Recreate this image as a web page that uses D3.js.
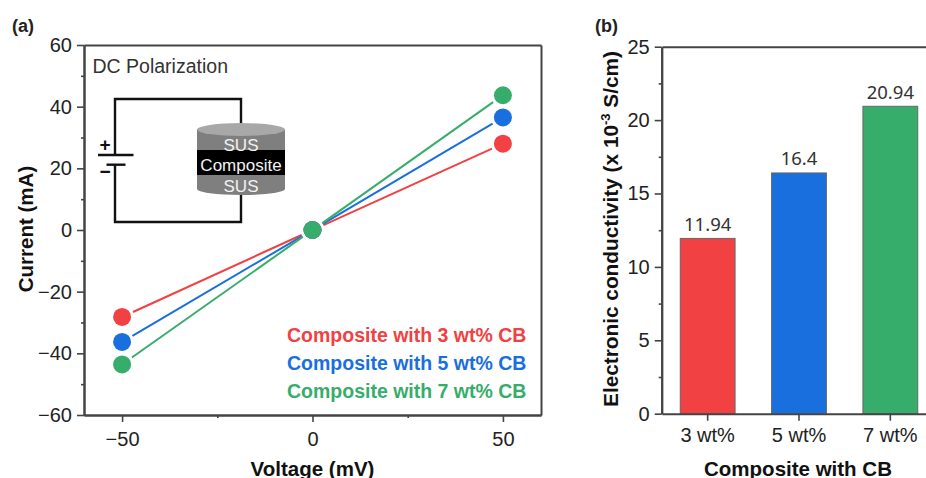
<!DOCTYPE html>
<html lang="en">
<head>
    <meta charset="UTF-8">
    <title>DC Polarization</title>
    <script src="https://cdn.jsdelivr.net/npm/d3@7"></script>
    <style>
        html, body { margin: 0; background: #fff; overflow: hidden; }
        svg { display: block; font-family: "Liberation Sans", Arial, sans-serif; }
    </style>
</head>
<body>
    <svg id="chart" width="926" height="478"></svg>

    <script>
        // panel (a)
        const voltages = [-50, 0, 50];
        const current3 = [-28.2, 0, 28];
        const current5 = [-36.3, 0, 36.5];
        const current7 = [-43.6, 0, 43.7];
        const seriesNames = ["Composite with 3 wt% CB", "Composite with 5 wt% CB", "Composite with 7 wt% CB"];
        const xMajorTicks = [-50, 0, 50];
        const xMinorTicks = [-25, 25];
        const yMajorTicks = [-60, -40, -20, 0, 20, 40, 60];
        const yMinorTicks = [-50, -30, -10, 10, 30, 50];

        // panel (b)
        const categories = ["3 wt%", "5 wt%", "7 wt%"];
        const conductivity = [11.94, 16.4, 20.94];
        const conductivityLabels = ["11.94", "16.4", "20.94"];
        const barMajorTicks = [0, 5, 10, 15, 20, 25];
        const barMinorTicks = [2.5, 7.5, 12.5, 17.5, 22.5];

        const colors = ["#f24142", "#1a6fdf", "#37ad6b"];
        const axisColor = "#444";
        const svg = d3.select("#chart");

        const x = d3.scaleLinear().domain([-60, 60]).range([84, 541]);
        const y = d3.scaleLinear().domain([-60, 60]).range([415, 45]);
        const xBand = d3.scaleBand().domain(categories).range([662, 936]).paddingInner(0.4).paddingOuter(0.2);
        const yBar = d3.scaleLinear().domain([0, 25]).range([413.7, 46.7]);

        function styleAxis(g, fontSize) {
            g.attr("font-family", null).attr("font-size", fontSize);
            g.selectAll("path").attr("stroke", axisColor).attr("stroke-width", 2);
            g.selectAll("line").attr("stroke", axisColor).attr("stroke-width", 1.6);
            g.selectAll("text").attr("fill", "#222");
        }

        // ---------- panel (a) ----------
        svg.append("g").attr("transform", "translate(0,415)")
            .call(d3.axisBottom(x).tickValues(xMinorTicks).tickSize(3).tickSizeOuter(0).tickFormat(""))
            .call(styleAxis, 20);
        svg.append("g").attr("transform", "translate(0,415)")
            .call(d3.axisBottom(x).tickValues(xMajorTicks).tickSize(7).tickPadding(10).tickSizeOuter(0).tickFormat(d3.format("d")))
            .call(styleAxis, 20);
        svg.append("g").attr("transform", "translate(84,0)")
            .call(d3.axisLeft(y).tickValues(yMinorTicks).tickSize(3).tickSizeOuter(0).tickFormat(""))
            .call(styleAxis, 20);
        svg.append("g").attr("transform", "translate(84,0)")
            .call(d3.axisLeft(y).tickValues(yMajorTicks).tickSize(7).tickPadding(5).tickSizeOuter(0).tickFormat(d3.format("d")))
            .call(styleAxis, 20);

        // frame top and right
        svg.append("g").attr("transform", "translate(0,45)")
            .call(d3.axisTop(x).tickValues([]).tickSizeOuter(0))
            .call(styleAxis, 20);
        svg.append("g").attr("transform", "translate(541,0)")
            .call(d3.axisRight(y).tickValues([]).tickSizeOuter(0))
            .call(styleAxis, 20);

        // circuit inset
        const wire = svg.append("g").attr("fill", "none").attr("stroke", "#111").attr("stroke-width", 2.4);
        wire.append("path").attr("d", "M115,155V99H241V135");
        wire.append("path").attr("d", "M115,165V222H241V188");
        wire.append("path").attr("d", "M98,155H133.5");
        wire.append("path").attr("d", "M106.5,164.7H125.5");
        svg.append("text").attr("x", 105).attr("y", 151).attr("text-anchor", "middle").attr("font-size", 19).attr("font-weight", "bold").attr("fill", "#111").text("+");
        svg.append("text").attr("x", 105).attr("y", 178).attr("text-anchor", "middle").attr("font-size", 19).attr("font-weight", "bold").attr("fill", "#111").text("−");

        const cyl = svg.append("g");
        cyl.append("path").attr("d", "M197,129V189A44,6 0 0 0 285,189V129Z").attr("fill", "#7f7f7f");
        cyl.append("rect").attr("x", 197).attr("y", 150).attr("width", 88).attr("height", 25).attr("fill", "#000");
        cyl.append("ellipse").attr("cx", 241).attr("cy", 129.5).attr("rx", 44).attr("ry", 6.5).attr("fill", "#a8a8a8");
        const cylLabels = [["SUS", 151], ["Composite", 170.5], ["SUS", 191.5]];
        cyl.selectAll("text").data(cylLabels).join("text")
            .attr("x", 241).attr("y", d => d[1])
            .attr("text-anchor", "middle").attr("font-size", 17).attr("fill", "#f2f2f2")
            .text(d => d[0]);

        svg.append("text").attr("x", 92.5).attr("y", 73).attr("font-size", 19.5).attr("fill", "#333").text("DC Polarization");

        // lines stop short of the markers
        const gap = 12;
        const lineGen = d3.line();
        [current3, current5, current7].forEach((values, s) => {
            const pts = voltages.map((v, i) => [x(v), y(values[i])]);
            d3.pairs(pts).forEach(([a, b]) => {
                const len = Math.hypot(b[0] - a[0], b[1] - a[1]);
                const ux = (b[0] - a[0]) / len;
                const uy = (b[1] - a[1]) / len;
                svg.append("path")
                    .attr("d", lineGen([[a[0] + ux * gap, a[1] + uy * gap], [b[0] - ux * gap, b[1] - uy * gap]]))
                    .attr("fill", "none")
                    .attr("stroke", colors[s])
                    .attr("stroke-width", 2);
            });
        });
        [current3, current5, current7].forEach((values, s) => {
            svg.append("g").selectAll("circle").data(voltages).join("circle")
                .attr("cx", d => x(d))
                .attr("cy", (d, i) => y(values[i]))
                .attr("r", 9)
                .attr("fill", colors[s]);
        });

        svg.selectAll("text.legend").data(seriesNames).join("text")
            .attr("class", "legend")
            .attr("x", 287)
            .attr("y", (d, i) => [341.5, 369.8, 398][i])
            .attr("font-size", 19.5)
            .attr("font-weight", "bold")
            .attr("fill", (d, i) => colors[i])
            .text(d => d);

        svg.append("text").attr("x", 312.5).attr("y", 475.5).attr("text-anchor", "middle")
            .attr("font-size", 20.5).attr("font-weight", "bold").attr("fill", "#111").text("Voltage (mV)");
        svg.append("text").attr("transform", "translate(33,229) rotate(-90)").attr("text-anchor", "middle")
            .attr("font-size", 20.5).attr("font-weight", "bold").attr("fill", "#111").text("Current (mA)");
        svg.append("text").attr("x", 12).attr("y", 32).attr("font-size", 18).attr("font-weight", "bold").attr("fill", "#222").text("(a)");

        // ---------- panel (b) ----------
        svg.selectAll("rect.bar").data(categories).join("rect")
            .attr("class", "bar")
            .attr("x", d => xBand(d))
            .attr("y", (d, i) => yBar(conductivity[i]))
            .attr("width", xBand.bandwidth())
            .attr("height", (d, i) => yBar(0) - yBar(conductivity[i]))
            .attr("fill", (d, i) => colors[i])
            .attr("stroke", "#666")
            .attr("stroke-width", 1);

        svg.selectAll("text.value").data(categories).join("text")
            .attr("class", "value")
            .attr("x", d => xBand(d) + xBand.bandwidth() / 2)
            .attr("y", (d, i) => yBar(conductivity[i]) - 7.5)
            .attr("text-anchor", "middle")
            .attr("font-family", "'Noto Sans', sans-serif")
            .attr("font-size", 18.5)
            .attr("fill", "#333")
            .text((d, i) => conductivityLabels[i]);

        svg.append("g").attr("transform", "translate(0,413.7)")
            .call(d3.axisBottom(xBand).tickSize(7).tickPadding(7).tickSizeOuter(0))
            .call(styleAxis, 20);
        svg.append("g").attr("transform", "translate(661.7,0)")
            .call(d3.axisLeft(yBar).tickValues(barMinorTicks).tickSize(3).tickSizeOuter(0).tickFormat(""))
            .call(styleAxis, 20);
        svg.append("g").attr("transform", "translate(661.7,0)")
            .call(d3.axisLeft(yBar).tickValues(barMajorTicks).tickSize(7).tickPadding(5).tickSizeOuter(0))
            .call(styleAxis, 20);
        svg.append("g").attr("transform", "translate(0,46.7)")
            .call(d3.axisTop(xBand).tickValues([]).tickSizeOuter(0))
            .call(styleAxis, 20);

        const yTitle = svg.append("text").attr("transform", "translate(618,229) rotate(-90)")
            .attr("text-anchor", "middle").attr("font-size", 20.8).attr("font-weight", "bold").attr("fill", "#111");
        yTitle.append("tspan").text("Electronic conductivity (x 10");
        yTitle.append("tspan").attr("dy", -8).attr("font-size", 13).text("-3");
        yTitle.append("tspan").attr("dy", 8).text(" S/cm)");

        svg.append("text").attr("x", 798).attr("y", 475.5).attr("text-anchor", "middle")
            .attr("font-size", 20.5).attr("font-weight", "bold").attr("fill", "#111").text("Composite with CB");
        svg.append("text").attr("x", 595).attr("y", 32).attr("font-size", 18).attr("font-weight", "bold").attr("fill", "#222").text("(b)");
    </script>
</body>
</html>
